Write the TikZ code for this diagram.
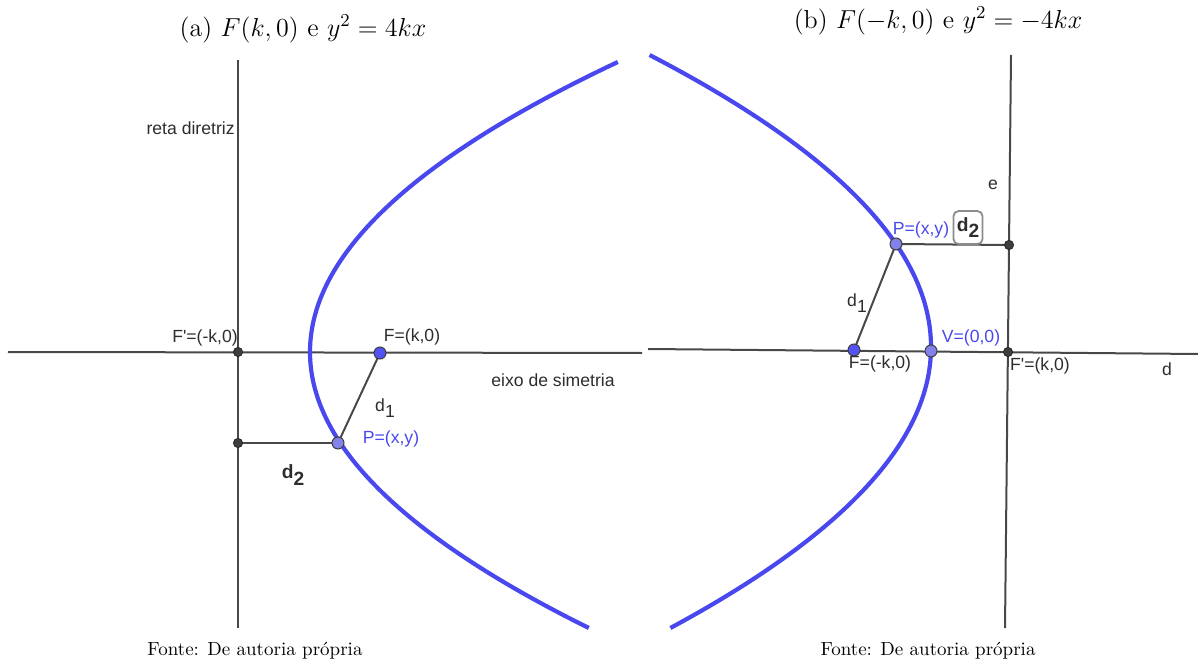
\documentclass[tikz,border=0pt]{standalone}
\usepackage{fix-cm}
\usepackage{fontspec}
\newfontfamily\ggbfont{Liberation Sans}
\usepackage{tikz}
\usepackage{xcolor}

\definecolor{ggbblue}{RGB}{72,72,238}
\definecolor{ggbline}{RGB}{72,72,72}
\definecolor{ggbtext}{RGB}{45,45,45}
\definecolor{ggbpoint}{RGB}{82,82,245}
\definecolor{ggblight}{RGB}{130,130,235}
\definecolor{ggbdark}{RGB}{62,62,62}

\begin{document}
\begin{tikzpicture}[
  x=0.5pt, y=-0.5pt,
  every node/.style={inner sep=0pt},
  axisline/.style={ggbline, line width=1pt},
  curve/.style={ggbblue, line width=2.1pt},
  lbl/.style={font=\ggbfont\fontsize{8.8}{10}\selectfont, text=ggbtext},
  bluelbl/.style={font=\ggbfont\fontsize{8.8}{10}\selectfont, text=ggbblue},
  boldlbl/.style={font=\ggbfont\bfseries\fontsize{9.6}{11}\selectfont, text=ggbtext},
  title/.style={font=\fontsize{13}{15}\selectfont},
  caption/.style={font=\fontsize{9.5}{11}\selectfont},
  darkpt/.style={circle, fill=ggbdark, draw=black!85, line width=0.4pt, minimum size=4.6pt},
  bluept/.style={circle, fill=ggbpoint, draw=ggbdark, line width=0.5pt, minimum size=6pt},
  lightpt/.style={circle, fill=ggblight, draw=ggbdark, line width=0.5pt, minimum size=6pt}
]

% Parameters (in pixel units)
\def\Va{310}     % vertex of left parabola
\def\Vb{931}     % vertex of right parabola

\useasboundingbox (0,0) rectangle (1198,668);

% --- Captions ---
\node[title] (capa) at (303,29) {(a) $F(k,0)$ e $y^2 = 4kx$};
\node[title] (capb) at (938,21) {(b) $F(-k,0)$ e $y^2 = -4kx$};
\node[caption] (srca) at (255,651) {Fonte: De autoria própria};
\node[caption] (srcb) at (928,651) {Fonte: De autoria própria};

% --- Left panel: focus F(k,0) ---
\coordinate (Da top) at (238,60);
\coordinate (Da bot) at (238,628);
\coordinate (Ea left) at (8,352);
\coordinate (Ea right) at (642,353);
\coordinate (Fpa) at (238,352);
\coordinate (Fa) at (380,353);
\coordinate (Pa) at (338,443);
\coordinate (Qa) at (238,443);

\draw[axisline] (Da top) -- (Da bot);
\draw[axisline] (Ea left) -- (Ea right);
\draw[axisline] (Qa) -- (Pa);
\draw[axisline] (Pa) -- (Fa);
\draw[curve] plot[domain=62:628, samples=90, smooth] ({\Va+(0.0605*(\x-352))^2}, \x);

\node[darkpt] (Fpa dot) at (Fpa) {};
\node[darkpt] (Qa dot) at (Qa) {};
\node[bluept] (Fa dot) at (Fa) {};
\node[lightpt] (Pa dot) at (Pa) {};

\node[lbl, anchor=east] (dirlbl) at (235,128) {reta diretriz};
\node[lbl] (Fpalbl) at (205,338) {F'=(-k,0)};
\node[lbl] (Falbl) at (412,337) {F=(k,0)};
\node[lbl] (eixolbl) at (553,380) {eixo de simetria};
\node[lbl] (d1a) at (385,408) {d\raisebox{-0.6ex}{1}};
\node[bluelbl] (Palbl) at (391,439) {P=(x,y)};
\node[boldlbl] (d2a) at (293,475) {d\raisebox{-0.6ex}{2}};

% --- Right panel: focus F(-k,0) ---
\coordinate (Db top) at (1011,55);
\coordinate (Db bot) at (1005,628);
\coordinate (Eb left) at (648,349);
\coordinate (Eb right) at (1198,354);
\coordinate (Fb) at (854,350);
\coordinate (Vb) at (931,351);
\coordinate (Fpb) at (1008,352);
\coordinate (Pb) at (896,244);
\coordinate (Qb) at (1009,245);

\draw[axisline] (Db top) -- (Db bot);
\draw[axisline] (Eb left) -- (Eb right);
\draw[axisline] (Pb) -- (Qb);
\draw[axisline] (Pb) -- (Fb);
\draw[curve] plot[domain=55:628, samples=90, smooth] ({\Vb-(0.05745*(\x-347))^2}, \x);

\node[darkpt] (Fpb dot) at (Fpb) {};
\node[darkpt] (Qb dot) at (Qb) {};
\node[bluept] (Fb dot) at (Fb) {};
\node[lightpt] (Vb dot) at (Vb) {};
\node[lightpt] (Pb dot) at (Pb) {};

\node[lbl] (elbl) at (993,185) {e};
\node[bluelbl] (Pblbl) at (921,230) {P=(x,y)};
\node[boldlbl, draw=black!45, line width=0.9pt, rounded corners=2.5pt,
      anchor=south, minimum width=14.5pt, minimum height=16.5pt] (d2b) at (968,245) {d\raisebox{-0.6ex}{2}};
\node[lbl] (d1b) at (857,303) {d\raisebox{-0.6ex}{1}};
\node[bluelbl] (Vblbl) at (971,338) {V=(0,0)};
\node[lbl] (Fblbl) at (880,364) {F=(-k,0)};
\node[lbl] (Fpblbl) at (1040,366) {F'=(k,0)};
\node[lbl] (dlbl) at (1167,369) {d};

\end{tikzpicture}
\end{document}
